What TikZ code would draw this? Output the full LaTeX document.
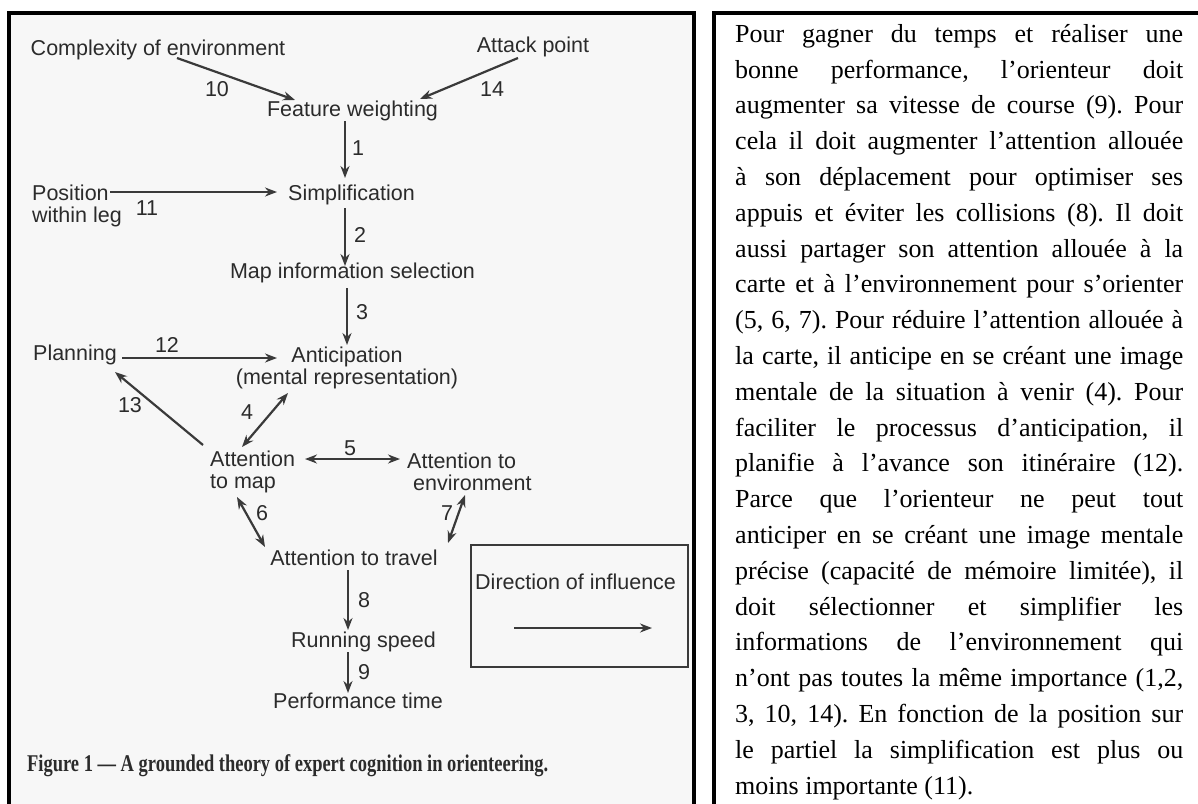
\documentclass[tikz,border=0pt]{standalone}
\usepackage{fontspec}
\usepackage{graphicx}
\setmainfont{Liberation Serif}
\newfontfamily\diagfont{Liberation Sans}
\usetikzlibrary{arrows.meta,calc}
\definecolor{ink}{HTML}{2B2B2B}
\definecolor{wire}{HTML}{3A3A3A}
\definecolor{paper}{HTML}{F7F7F7}
% one justified line of the commentary
\newcommand{\jline}[1]{\hbox to 448pt{#1}\par}
% set-up of the commentary paragraph
\newcommand{\parasetup}{%
  \setlength{\parindent}{0pt}\setlength{\parskip}{0pt}%
  \fontsize{26}{35.8}\selectfont\frenchspacing
  \spaceskip=0.25em plus 1em minus 0.1em\relax}
\begin{document}
\begin{tikzpicture}[x=1pt,y=-1pt,
  lbl/.style={font=\diagfont\fontsize{21.5}{21.5}\selectfont, text=ink, inner sep=0pt},
  box/.style={lbl, text height=15.5pt, text depth=4.5pt},
  tip/.tip={Stealth[length=12pt,width=9pt]},
  conn/.style={draw=wire, line width=2.2pt, -tip},
  both/.style={draw=wire, line width=2.2pt, tip-tip},
]
\useasboundingbox (0,0) rectangle (1198,803);
\clip (0,0) rectangle (1198,803);

% panels
\draw[line width=4.5pt, fill=paper] (9,13) rectangle (694,815);
\draw[line width=4.5pt, fill=white] (714,13) rectangle (1215,815);

% concepts
\node[box] (cplx) at (158,50) {Complexity of environment};
\node[box] (atk) at (533,47) {Attack point};
\node[box] (fw) at (352.5,111) {Feature weighting};
\node[box] (simp) at (351.5,195) {Simplification};
\node[lbl, align=left, anchor=west] (pos) at (32,206) {Position\\within leg};
\node[box] (mis) at (352.5,273) {Map information selection};
\node[box] (plan) at (75,355) {Planning};
\node[lbl, align=center] (antic) at (347,368) {Anticipation\\(mental representation)};
\node[lbl, align=left, anchor=west] (atm) at (210,472) {Attention\\to map};
\node[lbl, align=left, anchor=west] (ate) at (407,472) {Attention to\\\hspace*{6pt}environment};
\node[box] (att) at (354,560) {Attention to travel};
\node[box] (rs) at (363.5,642) {Running speed};
\node[box] (pt) at (358,703) {Performance time};

% influences
\draw[conn] ($(cplx)+(19,8)$) -- ($(fw)+(-57.5,-11)$);
\draw[conn] ($(atk)+(-15,11)$) -- ($(fw)+(67.5,-12)$);
\draw[conn] ($(fw)+(-7.5,10)$) -- ($(simp)+(-6.5,-17)$);
\draw[conn] ($(pos.west)+(78,-14)$) -- ($(simp)+(-74.5,-3)$);
\draw[conn] ($(simp)+(-6.5,13)$) -- ($(mis)+(-7.5,-7)$);
\draw[conn] ($(mis)+(-5.5,15)$) -- ($(antic)+(0,-23)$);
\draw[conn] ($(plan)+(47,3)$) -- ($(antic)+(-70,-10)$);
\draw[conn] ($(atm.west)+(-7,-27)$) -- ($(plan)+(40,17)$);
\draw[both] ($(atm.west)+(32,-25)$) -- ($(antic)+(-59,25)$);
\draw[both] ($(atm.west)+(95,-13)$) -- ($(ate.west)+(-7,-13)$);
\draw[both] ($(atm.west)+(27,25)$) -- ($(att)+(-89,-13)$);
\draw[both] ($(ate.west)+(58,23)$) -- ($(att)+(94,-17)$);
\draw[conn] ($(att)+(-6,10)$) -- ($(rs)+(-15.5,-12)$);
\draw[conn] ($(rs)+(-15.5,10)$) -- ($(pt)+(-10,-10)$);

% link numbers
\node[lbl] (n10) at (217,89) {10};
\node[lbl] (n14) at (492,89) {14};
\node[lbl] (n1) at (358,148) {1};
\node[lbl] (n11) at (147,208) {11};
\node[lbl] (n2) at (360,235) {2};
\node[lbl] (n3) at (362,312) {3};
\node[lbl] (n12) at (167,345) {12};
\node[lbl] (n13) at (130,405) {13};
\node[lbl] (n4) at (247,412) {4};
\node[lbl] (n5) at (350,448) {5};
\node[lbl] (n6) at (262,513) {6};
\node[lbl] (n7) at (447,513) {7};
\node[lbl] (n8) at (364,600) {8};
\node[lbl] (n9) at (364,672) {9};

% legend
\node[draw=wire, line width=2.5pt, minimum width=217pt, minimum height=122pt, inner sep=0pt] (legend) at (579.5,606) {};
\node[lbl, anchor=west] (legtext) at (475,582) {Direction of influence};
\coordinate (lgA) at ($(legend)+(-65.5,22)$);
\coordinate (lgB) at ($(legend)+(72.5,22)$);
\draw[conn, line width=2.5pt] (lgA) -- (lgB);

% caption
\node[anchor=base west, inner sep=0pt, text=ink] (cap) at (27,771)
  {\resizebox{521pt}{\height}{\fontsize{24}{26}\selectfont\bfseries Figure 1 — A grounded theory of expert cognition in orienteering.}};

% commentary
\node[anchor=north west, inner sep=0pt, text width=448pt] (para) at (735,24) {\parasetup
\jline{Pour gagner du temps et réaliser une}
\jline{bonne performance, l’orienteur doit}
\jline{augmenter sa vitesse de course (9). Pour}
\jline{cela il doit augmenter l’attention allouée}
\jline{à son déplacement pour optimiser ses}
\jline{appuis et éviter les collisions (8). Il doit}
\jline{aussi partager son attention allouée à la}
\jline{carte et à l’environnement pour s’orienter}
\jline{(5, 6, 7). Pour réduire l’attention allouée à}
\jline{la carte, il anticipe en se créant une image}
\jline{mentale de la situation à venir (4). Pour}
\jline{faciliter le processus d’anticipation, il}
\jline{planifie à l’avance son itinéraire (12).}
\jline{Parce que l’orienteur ne peut tout}
\jline{anticiper en se créant une image mentale}
\jline{précise (capacité de mémoire limitée), il}
\jline{doit sélectionner et simplifier les}
\jline{informations de l’environnement qui}
\jline{n’ont pas toutes la même importance (1,2,}
\jline{3, 10, 14). En fonction de la position sur}
\jline{le partiel la simplification est plus ou}
\hbox{moins importante (11).}\par};
\end{tikzpicture}
\end{document}
